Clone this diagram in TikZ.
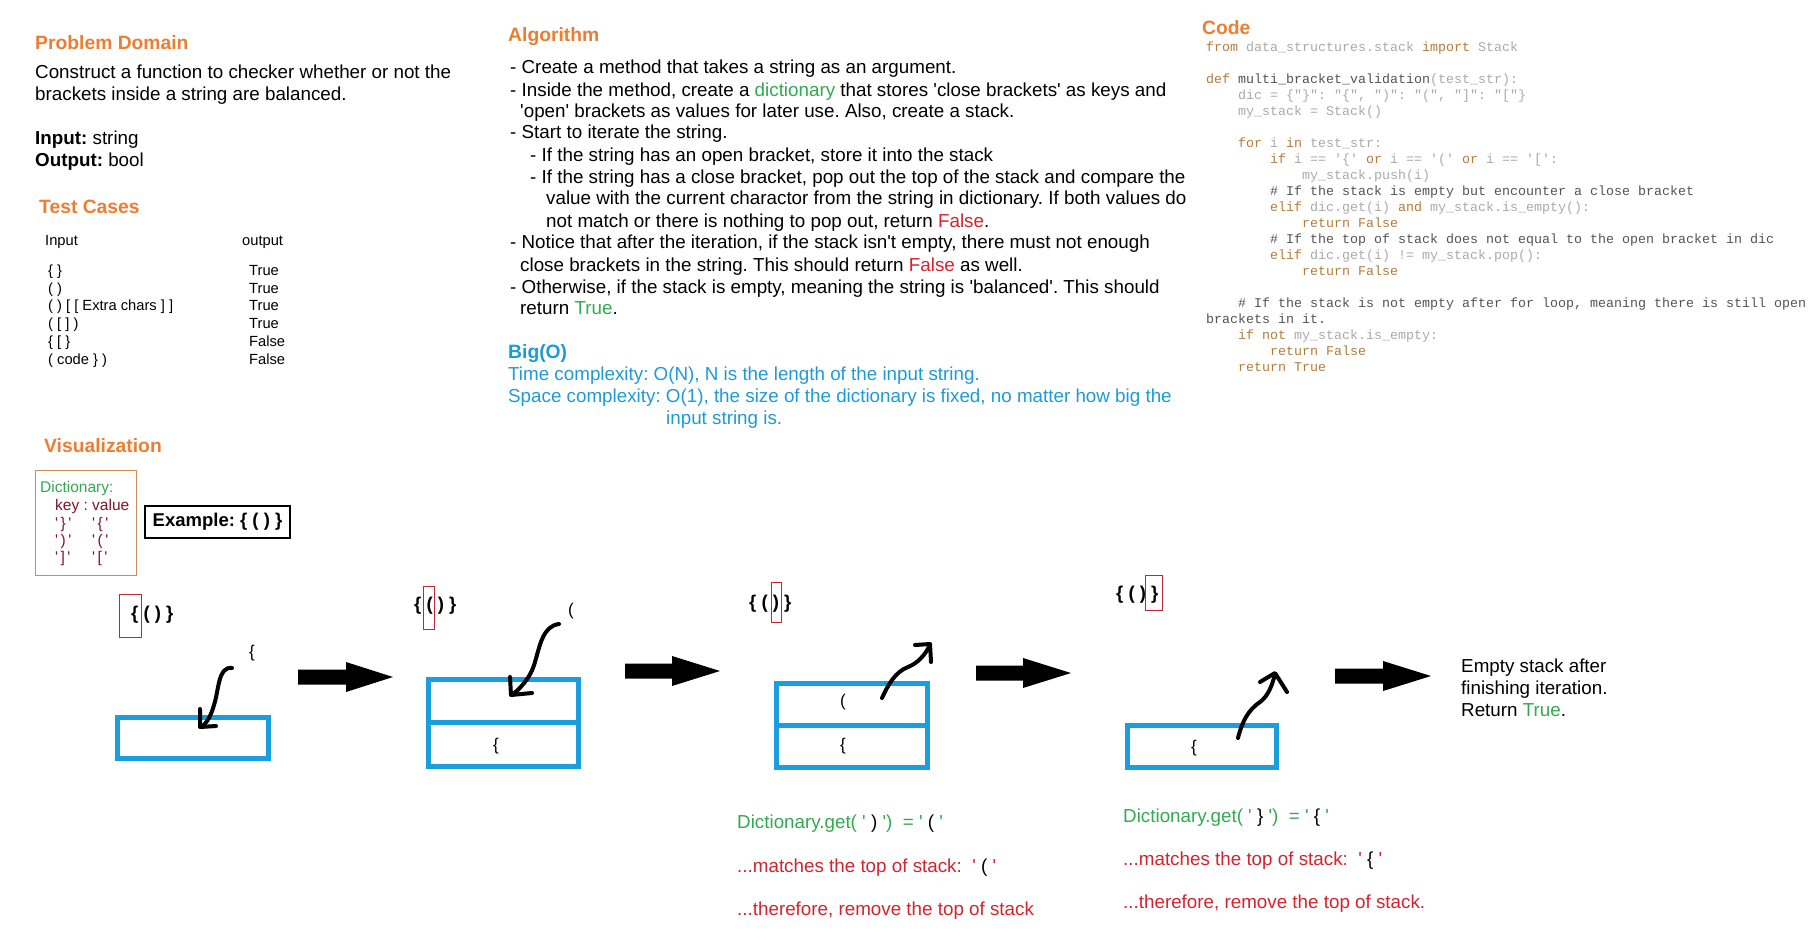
\documentclass[tikz,border=0pt]{standalone}
\usepackage{fontspec}
\setmainfont{Liberation Sans}
\setmonofont{Liberation Mono}
\frenchspacing
\definecolor{hdorange}{RGB}{237,125,49}
\definecolor{bigoblue}{RGB}{30,155,215}
\definecolor{boxblue}{RGB}{27,158,222}
\definecolor{okgreen}{RGB}{50,170,80}
\definecolor{badred}{RGB}{212,35,45}
\definecolor{keyred}{RGB}{128,20,40}
\definecolor{dictframe}{RGB}{214,140,80}
\definecolor{markred}{RGB}{190,40,50}
\definecolor{kwbrown}{RGB}{180,125,60}
\definecolor{codegray}{RGB}{170,170,170}
\definecolor{codedark}{RGB}{85,85,85}
\newcommand{\myq}{\textquotesingle}
\newcommand{\kw}[1]{\textcolor{kwbrown}{#1}}
\newcommand{\cd}[1]{\textcolor{codedark}{#1}}
\newcommand{\gr}[1]{\textcolor{okgreen}{#1}}
\newcommand{\rd}[1]{\textcolor{badred}{#1}}
\newcommand{\bk}[1]{\textcolor{black}{#1}}
\newcommand{\gp}{\hspace{2.5pt}}
\begin{document}
\begin{tikzpicture}[x=1pt,y=-1pt,
  txt/.style={inner sep=0pt, anchor=base west, font=\fontsize{18.8}{22}\selectfont},
  head/.style={inner sep=0pt, anchor=base west, font=\fontsize{19.3}{22}\selectfont\bfseries, text=hdorange},
  tbl/.style={inner sep=0pt, anchor=base west, font=\fontsize{14.7}{17}\selectfont},
  dict/.style={inner sep=0pt, anchor=base west, font=\fontsize{15.5}{18}\selectfont, text=keyred},
  code/.style={inner sep=0pt, anchor=base west, font=\fontsize{13.33}{16}\ttfamily, text=codegray},
  seq/.style={inner sep=0pt, anchor=base west, font=\fontsize{18.5}{22}\selectfont\bfseries},
  chr/.style={inner sep=0pt, font=\fontsize{17}{20}\selectfont},
  stackbox/.style={draw=boxblue, line width=5pt, inner sep=0pt, outer sep=0pt},
  marker/.style={draw=markred, line width=1pt},
  hand/.style={line width=4pt, line cap=round, line join=round},
  blockarrow/.style={fill=black}
]
\useasboundingbox (0,0) rectangle (1811,940);
\fill[white] (0,0) rectangle (1811,940);

% ---------------- Problem Domain
\node[head] (pdh) at (35,49) {Problem Domain};
\node[txt] (pd1) at (35,78) {Construct a function to checker whether or not the};
\node[txt] (pd2) at (35,100) {brackets inside a string are balanced.};
\node[txt] (pdin) at (35,144) {\textbf{Input:} string};
\node[txt] (pdout) at (35,166) {\textbf{Output:} bool};

% ---------------- Test Cases
\node[head] (tch) at (39,213) {Test Cases};
\node[tbl] (tcin) at (45,245) {Input};
\node[tbl] (tcout) at (242,245) {output};
\node[tbl] (r1a) at (48,275) {\{ \}};
\node[tbl] (r2a) at (48,293) {( )};
\node[tbl] (r3a) at (48,310) {( ) [ [ Extra chars ] ]};
\node[tbl] (r4a) at (48,328) {( [ ] )};
\node[tbl] (r5a) at (48,346) {\{ [ \}};
\node[tbl] (r6a) at (48,364) {( code \} )};
\node[tbl] (r1b) at (249,275) {True};
\node[tbl] (r2b) at (249,293) {True};
\node[tbl] (r3b) at (249,310) {True};
\node[tbl] (r4b) at (249,328) {True};
\node[tbl] (r5b) at (249,346) {False};
\node[tbl] (r6b) at (249,364) {False};

% ---------------- Algorithm
\node[head] (alh) at (508,41) {Algorithm};
\node[txt] (al1) at (510,73) {- Create a method that takes a string as an argument.};
\node[txt] (al2) at (510,96) {- Inside the method, create a \gr{dictionary} that stores \myq close brackets\myq{} as keys and};
\node[txt] (al3) at (520,117) {\myq open\myq{} brackets as values for later use. Also, create a stack.};
\node[txt] (al4) at (510,138) {- Start to iterate the string.};
\node[txt] (al5) at (530,161) {- If the string has an open bracket, store it into the stack};
\node[txt] (al6) at (530,183) {- If the string has a close bracket, pop out the top of the stack and compare the};
\node[txt] (al7) at (546,204) {value with the current charactor from the string in dictionary. If both values do};
\node[txt] (al8) at (546,227) {not match or there is nothing to pop out, return \rd{False}.};
\node[txt] (al9) at (510,248) {- Notice that after the iteration, if the stack isn\myq t empty, there must not enough};
\node[txt] (al10) at (520,271) {close brackets in the string. This should return \rd{False} as well.};
\node[txt] (al11) at (510,293) {- Otherwise, if the stack is empty, meaning the string is \myq balanced\myq. This should};
\node[txt] (al12) at (520,314) {return \gr{True}.};

% ---------------- Big(O)
\node[head, text=bigoblue] (boh) at (508,358) {Big(O)};
\node[txt, text=bigoblue] (bo1) at (508,380) {Time complexity: O(N), N is the length of the input string.};
\node[txt, text=bigoblue] (bo2) at (508,402) {Space complexity: O(1), the size of the dictionary is fixed, no matter how big the};
\node[txt, text=bigoblue] (bo3) at (666,424) {input string is.};

% ---------------- Code
\node[head] (cdh) at (1202,34) {Code};
\node[code] (c0) at (1206,51) {\kw{from} data\_structures.stack \kw{import} Stack};
\node[code] (c2) at (1206,83) {\kw{def} \cd{multi\_bracket\_validation}(test\_str):};
\node[code] (c3) at (1238,99) {dic = \{"\}": "\{", ")": "(", "]": "["\}};
\node[code] (c4) at (1238,115) {my\_stack = Stack()};
\node[code] (c6) at (1238,147) {\kw{for} i \kw{in} test\_str:};
\node[code] (c7) at (1270,163) {\kw{if} i == '\{' \kw{or} i == '(' \kw{or} i == '[':};
\node[code] (c8) at (1302,179) {my\_stack.push(i)};
\node[code] (c9) at (1270,195) {\cd{\# If the stack is empty but encounter a close bracket}};
\node[code] (c10) at (1270,211) {\kw{elif} dic.get(i) \kw{and} my\_stack.is\_empty():};
\node[code] (c11) at (1302,227) {\kw{return False}};
\node[code] (c12) at (1270,243) {\cd{\# If the top of stack does not equal to the open bracket in dic}};
\node[code] (c13) at (1270,259) {\kw{elif} dic.get(i) != my\_stack.pop():};
\node[code] (c14) at (1302,275) {\kw{return False}};
\node[code] (c16) at (1238,307) {\cd{\# If the stack is not empty after for loop, meaning there is still open}};
\node[code] (c17) at (1206,323) {\cd{brackets in it.}};
\node[code] (c18) at (1238,339) {\kw{if not} my\_stack.is\_empty:};
\node[code] (c19) at (1270,355) {\kw{return False}};
\node[code] (c20) at (1238,371) {\kw{return True}};

% ---------------- Visualization
\node[head] (vih) at (44,452) {Visualization};
\draw[dictframe, line width=1pt] (35.5,470.5) rectangle (136,575);
\node[dict, text=okgreen] (dk0) at (40,492) {Dictionary:};
\node[dict] (dk1) at (55,510) {key : value};
\node[dict] (dk2) at (55,528) {\myq\gp\}\gp\myq};
\node[dict] (dv2) at (92,528) {\myq\gp\{\gp\myq};
\node[dict] (dk3) at (55,545) {\myq\gp)\gp\myq};
\node[dict] (dv3) at (92,545) {\myq\gp(\gp\myq};
\node[dict] (dk4) at (55,562) {\myq\gp]\gp\myq};
\node[dict] (dv4) at (92,562) {\myq\gp[\gp\myq};
\node[draw, line width=1.3pt, minimum width=145pt, minimum height=32pt, inner sep=0pt,
      font=\fontsize{18.5}{22}\selectfont\bfseries] (ex) at (217.5,522) {Example: \{ ( ) \}};

% step 1
\node[seq] (sq1) at (131,619) {\{ ( ) \}};
\draw[marker] (119,594) rectangle (141,637);
\node[chr] (ch1) at (252,653) {\{};
\node[stackbox, minimum width=151pt, minimum height=41pt] (s1) at (192.5,737.5) {};
\draw[hand] (232,668) .. controls (218,666) and (219,690) .. (214,705) .. controls (211,716) and (207,722) .. (202,727);
\draw[hand] (200,709) -- (200,727) -- (216,726);

% arrow 1
\fill[blockarrow] (298,669.5) -- (346,669.5) -- (346,662) -- (393,677) -- (346,692) -- (346,684.5) -- (298,684.5) -- cycle;

% step 2
\node[seq] (sq2) at (414,610) {\{ ( ) \}};
\draw[marker] (423,586) rectangle (434,629);
\node[chr] (ch2) at (571,611) {(};
\node[stackbox, minimum width=150pt, minimum height=43pt] (s2a) at (503,700.5) {};
\node[stackbox, minimum width=150pt, minimum height=44pt] (s2b) at (503,744) {};
\node[chr] (s2bt) at (496,746) {\{};
\draw[hand] (559,624) .. controls (543,626) and (540,645) .. (535,662) .. controls (530,680) and (518,690) .. (512,695);
\draw[hand] (510,677) -- (511,695) -- (532,693);

% arrow 2
\fill[blockarrow] (625,663.5) -- (672,663.5) -- (672,656) -- (720,671) -- (672,686) -- (672,678.5) -- (625,678.5) -- cycle;

% step 3
\node[seq] (sq3) at (749,608) {\{ ( ) \}};
\draw[marker] (771,582) rectangle (781,622);
\node[stackbox, minimum width=151pt, minimum height=42pt] (s3a) at (851.5,704) {};
\node[stackbox, minimum width=151pt, minimum height=42pt] (s3b) at (851.5,746) {};
\node[chr] (s3at) at (843,702) {(};
\node[chr] (s3bt) at (843,746) {\{};
\draw[hand] (882,698) .. controls (888,685) and (895,672) .. (908,667) .. controls (918,663) and (925,655) .. (930,645);
\draw[hand] (915,645) -- (930,644) -- (931,662);
\node[txt, text=okgreen] (d3a) at (737,828) {Dictionary.get( \myq\ \bk{)}\ \myq)~~=\ \myq\ \bk{(}\ \myq};
\node[txt, text=badred] (d3b) at (737,872) {...matches the top of stack:~~\myq\ \bk{(}\ \myq};
\node[txt, text=badred] (d3c) at (737,915) {...therefore, remove the top of stack};

% arrow 3
\fill[blockarrow] (976,665.5) -- (1023,665.5) -- (1023,658) -- (1071,673) -- (1023,688) -- (1023,680.5) -- (976,680.5) -- cycle;

% step 4
\node[seq] (sq4) at (1116,599) {\{ ( ) \}};
\draw[marker] (1145,575) rectangle (1162,610);
\node[stackbox, minimum width=149pt, minimum height=42pt] (s4) at (1201.5,746) {};
\node[chr] (s4t) at (1194,748) {\{};
\draw[hand] (1238,738) .. controls (1242,722) and (1248,710) .. (1260,702) .. controls (1268,696) and (1272,686) .. (1275,674);
\draw[hand] (1260,682) -- (1275,673) -- (1287,692);
\node[txt, text=okgreen] (d4a) at (1123,822) {Dictionary.get( \myq\ \bk{\}}\ \myq)~~=\ \myq\ \bk{\{}\ \myq};
\node[txt, text=badred] (d4b) at (1123,865) {...matches the top of stack:~~\myq\ \bk{\{}\ \myq};
\node[txt, text=badred] (d4c) at (1123,908) {...therefore, remove the top of stack.};

% arrow 4
\fill[blockarrow] (1335,668.5) -- (1383,668.5) -- (1383,661) -- (1431,676) -- (1383,691) -- (1383,683.5) -- (1335,683.5) -- cycle;

% final
\node[txt] (fin1) at (1461,672) {Empty stack after};
\node[txt] (fin2) at (1461,694) {finishing iteration.};
\node[txt] (fin3) at (1461,716) {Return \gr{True}.};
\end{tikzpicture}
\end{document}
